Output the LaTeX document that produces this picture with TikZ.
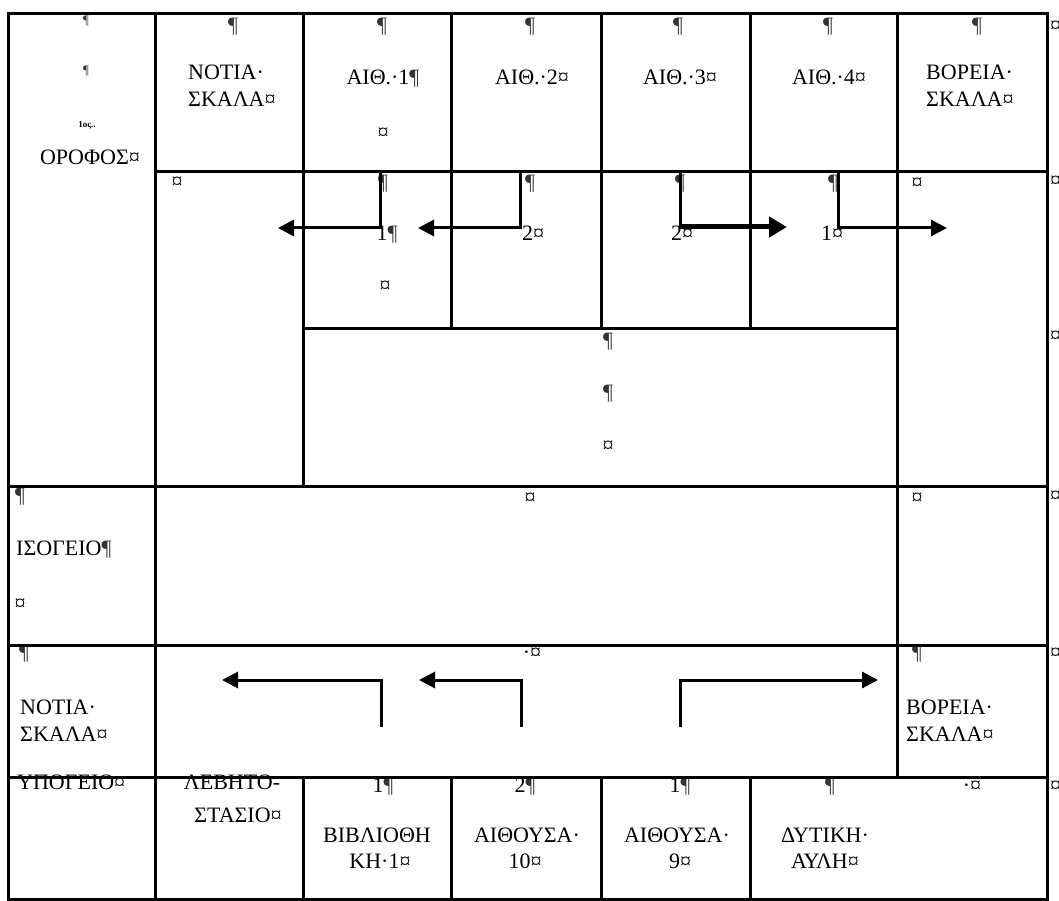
\documentclass[tikz,border=0pt]{standalone}
\usepackage{fontspec}
\setmainfont{Liberation Serif}
\usetikzlibrary{arrows.meta}
\newcommand\mypil{{\color{black!80}¶}}
\begin{document}
\begin{tikzpicture}[x=1pt,y=-1pt,
  tline/.style={line width=3pt,line cap=rect},
  txt/.style={font=\fontsize{22}{26}\selectfont,inner sep=0pt,anchor=mid},
  txtw/.style={txt,anchor=mid west},
  sml/.style={font=\fontsize{13}{15}\selectfont,inner sep=0pt,text=black!80,anchor=mid},
  tinytxt/.style={font=\fontsize{9}{10}\selectfont\bfseries,inner sep=0pt,anchor=mid},
  endm/.style={txt,anchor=mid west},
  arr/.style={line width=3pt,line join=miter,-{Triangle[length=16pt,width=16pt]}},
  thickarr/.style={line width=5pt,-{Triangle[length=18pt,width=20pt]}}]
\useasboundingbox (0,0) rectangle (1059,901);
% ---- row 1 ----
\node[sml] (p1) at (86,22) {¶};
\node[sml] (p2) at (86,72) {¶};
\node[tinytxt] (ord) at (87,125) {1ος..};
\node[txt] (orofos) at (90,162) {ΟΡΟΦΟΣ¤};
\node[txt] (pn) at (233,30) {\mypil};
\node[txtw] (n1) at (188,77) {ΝΟΤΙΑ·};
\node[txtw] (n2) at (188,104) {ΣΚΑΛΑ¤};
\node[txt] (pa1) at (382,30) {\mypil};
\node[txt] (t1) at (383,82) {ΑΙΘ.·1\mypil};
\node[txt] (t1b) at (383,137) {¤};
\node[txt] (pa2) at (530,30) {\mypil};
\node[txt] (t2) at (532,82) {ΑΙΘ.·2¤};
\node[txt] (pa3) at (678,30) {\mypil};
\node[txt] (t3) at (680,82) {ΑΙΘ.·3¤};
\node[txt] (pa4) at (828,30) {\mypil};
\node[txt] (t4) at (829,82) {ΑΙΘ.·4¤};
\node[txt] (pb) at (977,30) {\mypil};
\node[txtw] (bo1) at (926,77) {ΒΟΡΕΙΑ·};
\node[txtw] (bo2) at (926,104) {ΣΚΑΛΑ¤};
% ---- row 2 ----
\node[txt] (r2a) at (177,186) {¤};
\node[txt] (r2p1) at (383,187) {\mypil};
\node[txt] (r2p2) at (530,187) {\mypil};
\node[txt] (r2p3) at (680,187) {\mypil};
\node[txt] (r2p4) at (833,187) {\mypil};
\node[txt] (c1a) at (387,238) {1\mypil};
\node[txt] (c1b) at (385,290) {¤};
\node[txt] (c2) at (533,238) {2¤};
\node[txt] (c3) at (682,238) {2¤};
\node[txt] (c4) at (832,238) {1¤};
\node[txt] (r2r) at (917,187) {¤};
\node[txt] (m1) at (608,345) {\mypil};
\node[txt] (m2) at (608,397) {\mypil};
\node[txt] (m3) at (608,450) {¤};
% ---- row 3 ----
\node[txt] (i1) at (20,500) {\mypil};
\node[txtw] (i2) at (16,553) {ΙΣΟΓΕΙΟ\mypil};
\node[txt] (i3) at (20,608) {¤};
\node[txt] (i4) at (530,502) {¤};
\node[txt] (i5) at (917,502) {¤};
% ---- row 4 ----
\node[txt] (s1) at (24,657) {\mypil};
\node[txtw] (s2) at (20,712) {ΝΟΤΙΑ·};
\node[txtw] (s3) at (20,739) {ΣΚΑΛΑ¤};
\node[txt] (s4) at (532,657) {·¤};
\node[txt] (s5) at (917,657) {\mypil};
\node[txtw] (s6) at (906,712) {ΒΟΡΕΙΑ·};
\node[txtw] (s7) at (906,739) {ΣΚΑΛΑ¤};
% ---- row 5 ----
\node[txtw] (u1) at (17,787) {ΥΠΟΓΕΙΟ¤};
\node[txt] (u2) at (232,787) {ΛΕΒΗΤΟ-};
\node[txt] (u3) at (238,820) {ΣΤΑΣΙΟ¤};
\node[txt] (b1) at (383,790) {1\mypil};
\node[txt] (b2) at (377,840) {ΒΙΒΛΙΟΘΗ};
\node[txt] (b3) at (380,866) {ΚΗ·1¤};
\node[txt] (a1) at (525,790) {2\mypil};
\node[txt] (a2) at (527,840) {ΑΙΘΟΥΣΑ·};
\node[txt] (a3) at (525,866) {10¤};
\node[txt] (a4) at (680,790) {1\mypil};
\node[txt] (a5) at (677,840) {ΑΙΘΟΥΣΑ·};
\node[txt] (a6) at (680,866) {9¤};
\node[txt] (d1) at (830,790) {\mypil};
\node[txt] (d2) at (825,840) {ΔΥΤΙΚΗ·};
\node[txt] (d3) at (825,866) {ΑΥΛΗ¤};
\node[txt] (d4) at (972,790) {·¤};
% ---- end-of-row marks (cut by the right edge, as in the reference) ----
\node[endm] (e1) at (1050,30) {¤};
\node[endm] (e2) at (1050,185) {¤};
\node[endm] (e3) at (1050,340) {¤};
\node[endm] (e4) at (1050,500) {¤};
\node[endm] (e5) at (1050,657) {¤};
\node[endm] (e6) at (1050,790) {¤};
% ---- table lines ----
\draw[tline] (8,14) -- (1047,14);
\draw[tline] (155,172) -- (1047,172);
\draw[tline] (303,328) -- (897,328);
\draw[tline] (8,486) -- (1047,486);
\draw[tline] (8,645) -- (1047,645);
\draw[tline] (8,777) -- (1047,777);
\draw[tline] (8,899) -- (1047,899);
\draw[tline] (8,14) -- (8,899);
\draw[tline] (155,14) -- (155,899);
\draw[tline] (303,14) -- (303,486);
\draw[tline] (303,777) -- (303,899);
\draw[tline] (451,14) -- (451,328);
\draw[tline] (451,777) -- (451,899);
\draw[tline] (601,14) -- (601,328);
\draw[tline] (601,777) -- (601,899);
\draw[tline] (750,14) -- (750,328);
\draw[tline] (750,777) -- (750,899);
\draw[tline] (897,14) -- (897,777);
\draw[tline] (1047,14) -- (1047,899);
% ---- arrows ----
\coordinate (a1s) at (380,172); \coordinate (a1k) at (380,228); \coordinate (a1e) at (278,228);
\coordinate (a2s) at (520,172); \coordinate (a2k) at (520,228); \coordinate (a2e) at (418,228);
\coordinate (a3s) at (680,172); \coordinate (a3k) at (680,227); \coordinate (a3e) at (787,227);
\coordinate (a4s) at (838,172); \coordinate (a4k) at (838,228); \coordinate (a4e) at (947,228);
\coordinate (a5s) at (381,727); \coordinate (a5k) at (381,680); \coordinate (a5e) at (222,680);
\coordinate (a6s) at (521,727); \coordinate (a6k) at (521,680); \coordinate (a6e) at (419,680);
\coordinate (a7s) at (680,727); \coordinate (a7k) at (680,680); \coordinate (a7e) at (878,680);
\draw[arr] (a1s) -- (a1k) -- (a1e);
\draw[arr] (a2s) -- (a2k) -- (a2e);
\draw[line width=3pt] (a3s) -- (a3k);
\draw[thickarr] (a3k) -- (a3e);
\draw[arr] (a4s) -- (a4k) -- (a4e);
\draw[arr] (a5s) -- (a5k) -- (a5e);
\draw[arr] (a6s) -- (a6k) -- (a6e);
\draw[arr] (a7s) -- (a7k) -- (a7e);
\end{tikzpicture}
\end{document}
